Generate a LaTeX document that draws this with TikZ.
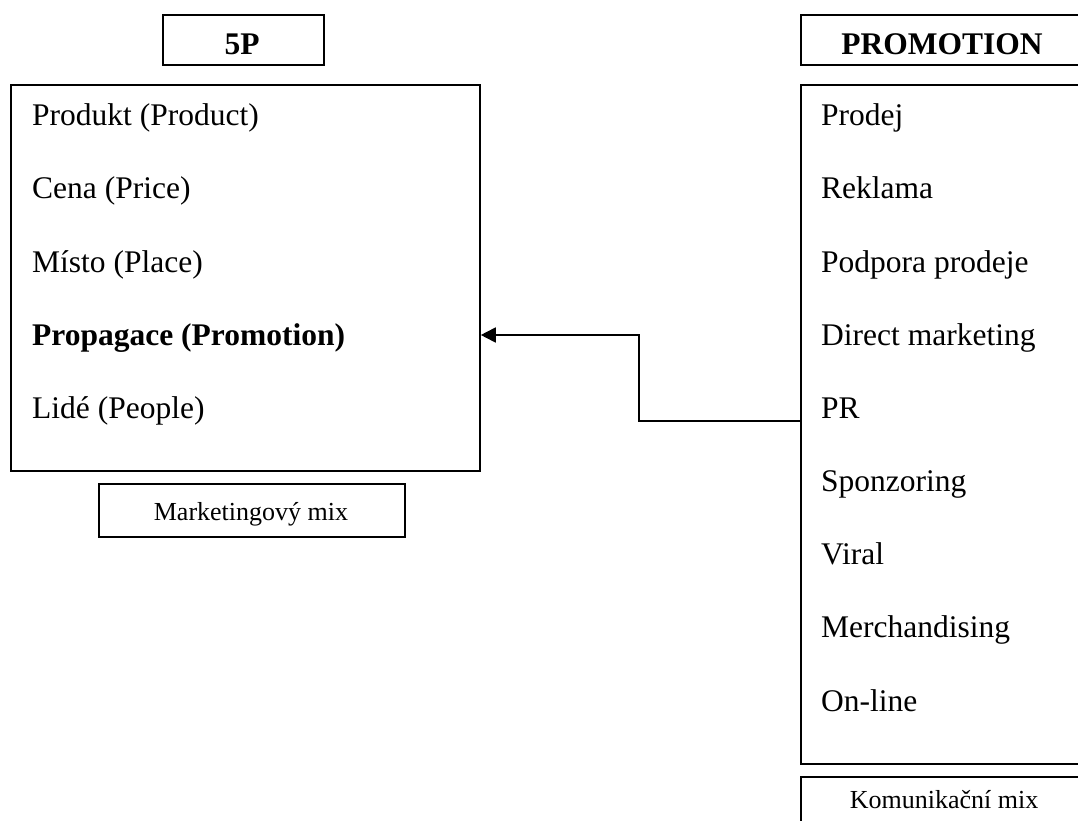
\documentclass[tikz,border=0pt]{standalone}
\usepackage{fontspec}
\setmainfont{Liberation Serif}
\usetikzlibrary{arrows.meta}
\begin{document}
\begin{tikzpicture}[x=1pt,y=-1pt,
  box/.style={draw,line width=1.8pt,inner sep=0pt,anchor=north west},
  item/.style={inner sep=0pt,anchor=base west,font=\fontsize{31.5}{38}\selectfont},
  head/.style={inner sep=0pt,anchor=base,font=\fontsize{31.5}{38}\selectfont\bfseries},
  small/.style={inner sep=0pt,anchor=base,font=\fontsize{26}{31}\selectfont},
  conn/.style={line width=1.8pt,-{Triangle[length=15pt,width=15pt]}}
]
\path[use as bounding box] (0,0) rectangle (1078,821);
\clip (0,0) rectangle (1078,821);
% left side
\node[box,minimum width=161pt,minimum height=50pt] (b5p) at (162,14) {};
\node[head] (t5p) at (242,55) {5P};
\node[box,minimum width=469pt,minimum height=386pt] (lbox) at (10,84) {};
\node[item] (l1) at (32,126) {Produkt (Product)};
\node[item] (l2) at (32,199) {Cena (Price)};
\node[item] (l3) at (32,272) {Místo (Place)};
\node[item,font=\fontsize{31.5}{38}\selectfont\bfseries] (l4) at (32,345) {Propagace (Promotion)};
\node[item] (l5) at (32,418) {Lidé (People)};
\node[box,minimum width=306pt,minimum height=53pt] (bmm) at (98,483) {};
\node[small] (tmm) at (251,520) {Marketingový mix};
% right side
\node[box,minimum width=320pt,minimum height=50pt] (bpr) at (800,14) {};
\node[head] (tpr) at (942,55) {PROMOTION};
\node[box,minimum width=320pt,minimum height=679pt] (rbox) at (800,84) {};
\node[item] (r1) at (821,126) {Prodej};
\node[item] (r2) at (821,199) {Reklama};
\node[item] (r3) at (821,272) {Podpora prodeje};
\node[item] (r4) at (821,345) {Direct marketing};
\node[item] (r5) at (821,418) {PR};
\node[item] (r6) at (821,491) {Sponzoring};
\node[item] (r7) at (821,564) {Viral};
\node[item] (r8) at (821,637) {Merchandising};
\node[item] (r9) at (821,711) {On-line};
\node[box,minimum width=320pt,minimum height=80pt] (bkm) at (800,776) {};
\node[small] (tkm) at (944,808) {Komunikační mix};
% connector
\coordinate (s) at (rbox.west |- 0,421);
\coordinate (e) at (lbox.east |- 0,335);
\draw[conn] (s) -- (639,421) |- (e);
\end{tikzpicture}
\end{document}
